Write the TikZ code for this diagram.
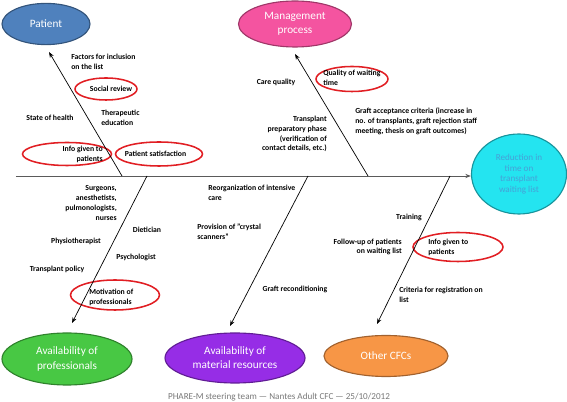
\documentclass[tikz,border=0pt]{standalone}
\usepackage{fontspec}
\setmainfont{Carlito}
\definecolor{fbblue}{RGB}{79,129,189}
\definecolor{fbpink}{RGB}{244,84,160}
\definecolor{fbcyan}{RGB}{36,228,240}
\definecolor{fbcyantext}{RGB}{70,160,215}
\definecolor{fbgreen}{RGB}{72,200,68}
\definecolor{fbpurple}{RGB}{150,45,230}
\definecolor{fborange}{RGB}{247,150,70}
\definecolor{fbred}{RGB}{225,30,35}
\definecolor{fbgray}{RGB}{90,90,90}
\definecolor{fbfoot}{RGB}{120,120,120}
\usetikzlibrary{arrows.meta,positioning,shapes.geometric}

\begin{document}
\begin{tikzpicture}[
  cause/.style={ellipse, draw=#1!65!black, fill=#1, line width=0.8pt, align=center, text=white, font=\fontsize{8}{10}\selectfont, inner sep=0pt},
  ring/.style={ellipse, draw=fbred, line width=1.1pt, inner sep=0pt},
  lbl/.style={font=\fontsize{5.5}{7}\selectfont\bfseries, inner sep=0pt},
  bone/.style={-{Stealth[length=4pt,width=3pt]}, black, line width=0.5pt}
]
  \useasboundingbox (0,0) rectangle (14.175,10.05);
  % Effect and spine
  \node[cause=fbcyan, text=fbcyantext, font=\fontsize{6.5}{7.6}\selectfont, minimum width=2.375cm, minimum height=2.0cm] (goal) at (12.975,5.7) {Reduction in\\time on\\transplant\\waiting list};
  \coordinate (s0) at (0.4,5.65);
  \draw[-{Stealth[length=4pt,width=3pt]}, fbgray, line width=0.6pt] (s0) -- (s0 -| goal.west);
  % Causes
  \node[cause=fbblue, minimum width=2.2cm, minimum height=1.03cm] (pat) at (1.15,9.45) {Patient};
  \node[cause=fbpink, minimum width=2.825cm, minimum height=1.15cm] (mgmt) at (7.375,9.45) {Management\\process};
  \node[cause=fbgreen, minimum width=3.25cm, minimum height=1.3cm] (prof) at (1.675,1.075) {Availability of\\professionals};
  \node[cause=fbpurple, minimum width=3.5cm, minimum height=1.25cm] (mat) at (5.875,1.1) {Availability of\\material resources};
  \node[cause=fborange, minimum width=3.1cm, minimum height=1.025cm] (cfc) at (9.65,1.15) {Other CFCs};
  % Highlighted items
  \node[ring, minimum width=1.55cm, minimum height=0.55cm] (r1) at (2.65,7.825) {};
  \node[ring, minimum width=2.225cm, minimum height=0.575cm] (r2) at (1.675,6.2) {};
  \node[ring, minimum width=2.175cm, minimum height=0.6cm] (r3) at (3.975,6.2) {};
  \node[ring, minimum width=1.8cm, minimum height=0.625cm] (r4) at (8.8,8.075) {};
  \node[ring, minimum width=2.225cm, minimum height=0.75cm] (r5) at (2.875,2.675) {};
  \node[ring, minimum width=2.25cm, minimum height=0.725cm] (r6) at (11.45,3.875) {};
  % Bones
  \coordinate (j1) at (3.05,5.65);  \coordinate (t1) at (1.225,8.75);
  \coordinate (j2) at (9.2,5.65);   \coordinate (t2) at (7.375,8.7);
  \coordinate (j3) at (3.675,5.65); \coordinate (t3) at (1.8,1.975);
  \coordinate (j4) at (7.7,5.65);   \coordinate (t4) at (5.75,1.9);
  \coordinate (j5) at (11.25,5.65); \coordinate (t5) at (9.425,1.95);
  \draw[bone] (j1) -- (t1);
  \draw[bone] (j2) -- (t2);
  \draw[bone] (j3) -- (t3);
  \draw[bone] (j4) -- (t4);
  \draw[bone] (j5) -- (t5);
  % Patient
  \node[lbl, anchor=west, align=left] (l1) at (1.775,8.51) {Factors for inclusion\\on the list};
  \node[lbl] (l2) at (2.775,7.825) {Social review};
  \node[lbl, anchor=west, align=left] (l3) at (2.525,7.1) {Therapeutic\\education};
  \node[lbl] (l4) at (1.25,7.1) {State of health};
  \node[lbl, anchor=east, align=right] (l5) at (2.575,6.2) {Info given to\\patients};
  \node[lbl] (l6) at (3.89,6.2) {Patient satisfaction};
  % Management process
  \node[lbl] (l7) at (6.9,8.0) {Care quality};
  \node[lbl, anchor=west, align=left] (l8) at (8.075,8.1) {Quality of waiting\\time};
  \node[lbl, anchor=east, align=right] (l9) at (8.175,6.7) {Transplant\\preparatory phase\\(verification of\\contact details, etc.)};
  \node[lbl, anchor=west, align=left] (l10) at (8.875,7.025) {Graft acceptance criteria (increase in\\no. of transplants, graft rejection staff\\meeting, thesis on graft outcomes)};
  % Professionals
  \node[lbl, anchor=east, align=right] (l11) at (2.925,4.975) {Surgeons,\\anesthetists,\\pulmonologists,\\nurses};
  \node[lbl] (l12) at (3.675,4.3) {Dietician};
  \node[lbl] (l13) at (1.9,4.025) {Physiotherapist};
  \node[lbl] (l14) at (3.4,3.625) {Psychologist};
  \node[lbl] (l15) at (1.425,3.325) {Transplant policy};
  \node[lbl, anchor=west, align=left] (l16) at (2.225,2.625) {Motivation of\\professionals};
  % Material resources
  \node[lbl, anchor=west, align=left] (l17) at (5.2,5.225) {Reorganization of intensive\\care};
  \node[lbl, anchor=west, align=left] (l18) at (4.925,4.25) {Provision of "crystal\\scanners"};
  \node[lbl] (l19) at (7.375,2.825) {Graft reconditioning};
  % Other CFCs
  \node[lbl] (l20) at (10.225,4.625) {Training};
  \node[lbl, anchor=east, align=right] (l21) at (10.05,3.875) {Follow-up of patients\\on waiting list};
  \node[lbl, anchor=west, align=left] (l22) at (10.7,3.875) {Info given to\\patients};
  \node[lbl, anchor=west, align=left] (l23) at (9.975,2.675) {Criteria for registration on\\list};
  % Footer
  \node[font=\fontsize{6.5}{7}\selectfont, text=fbfoot, inner sep=0pt] (foot) at (6.975,0.125) {PHARE-M steering team --- Nantes Adult CFC --- 25/10/2012};
\end{tikzpicture}
\end{document}
